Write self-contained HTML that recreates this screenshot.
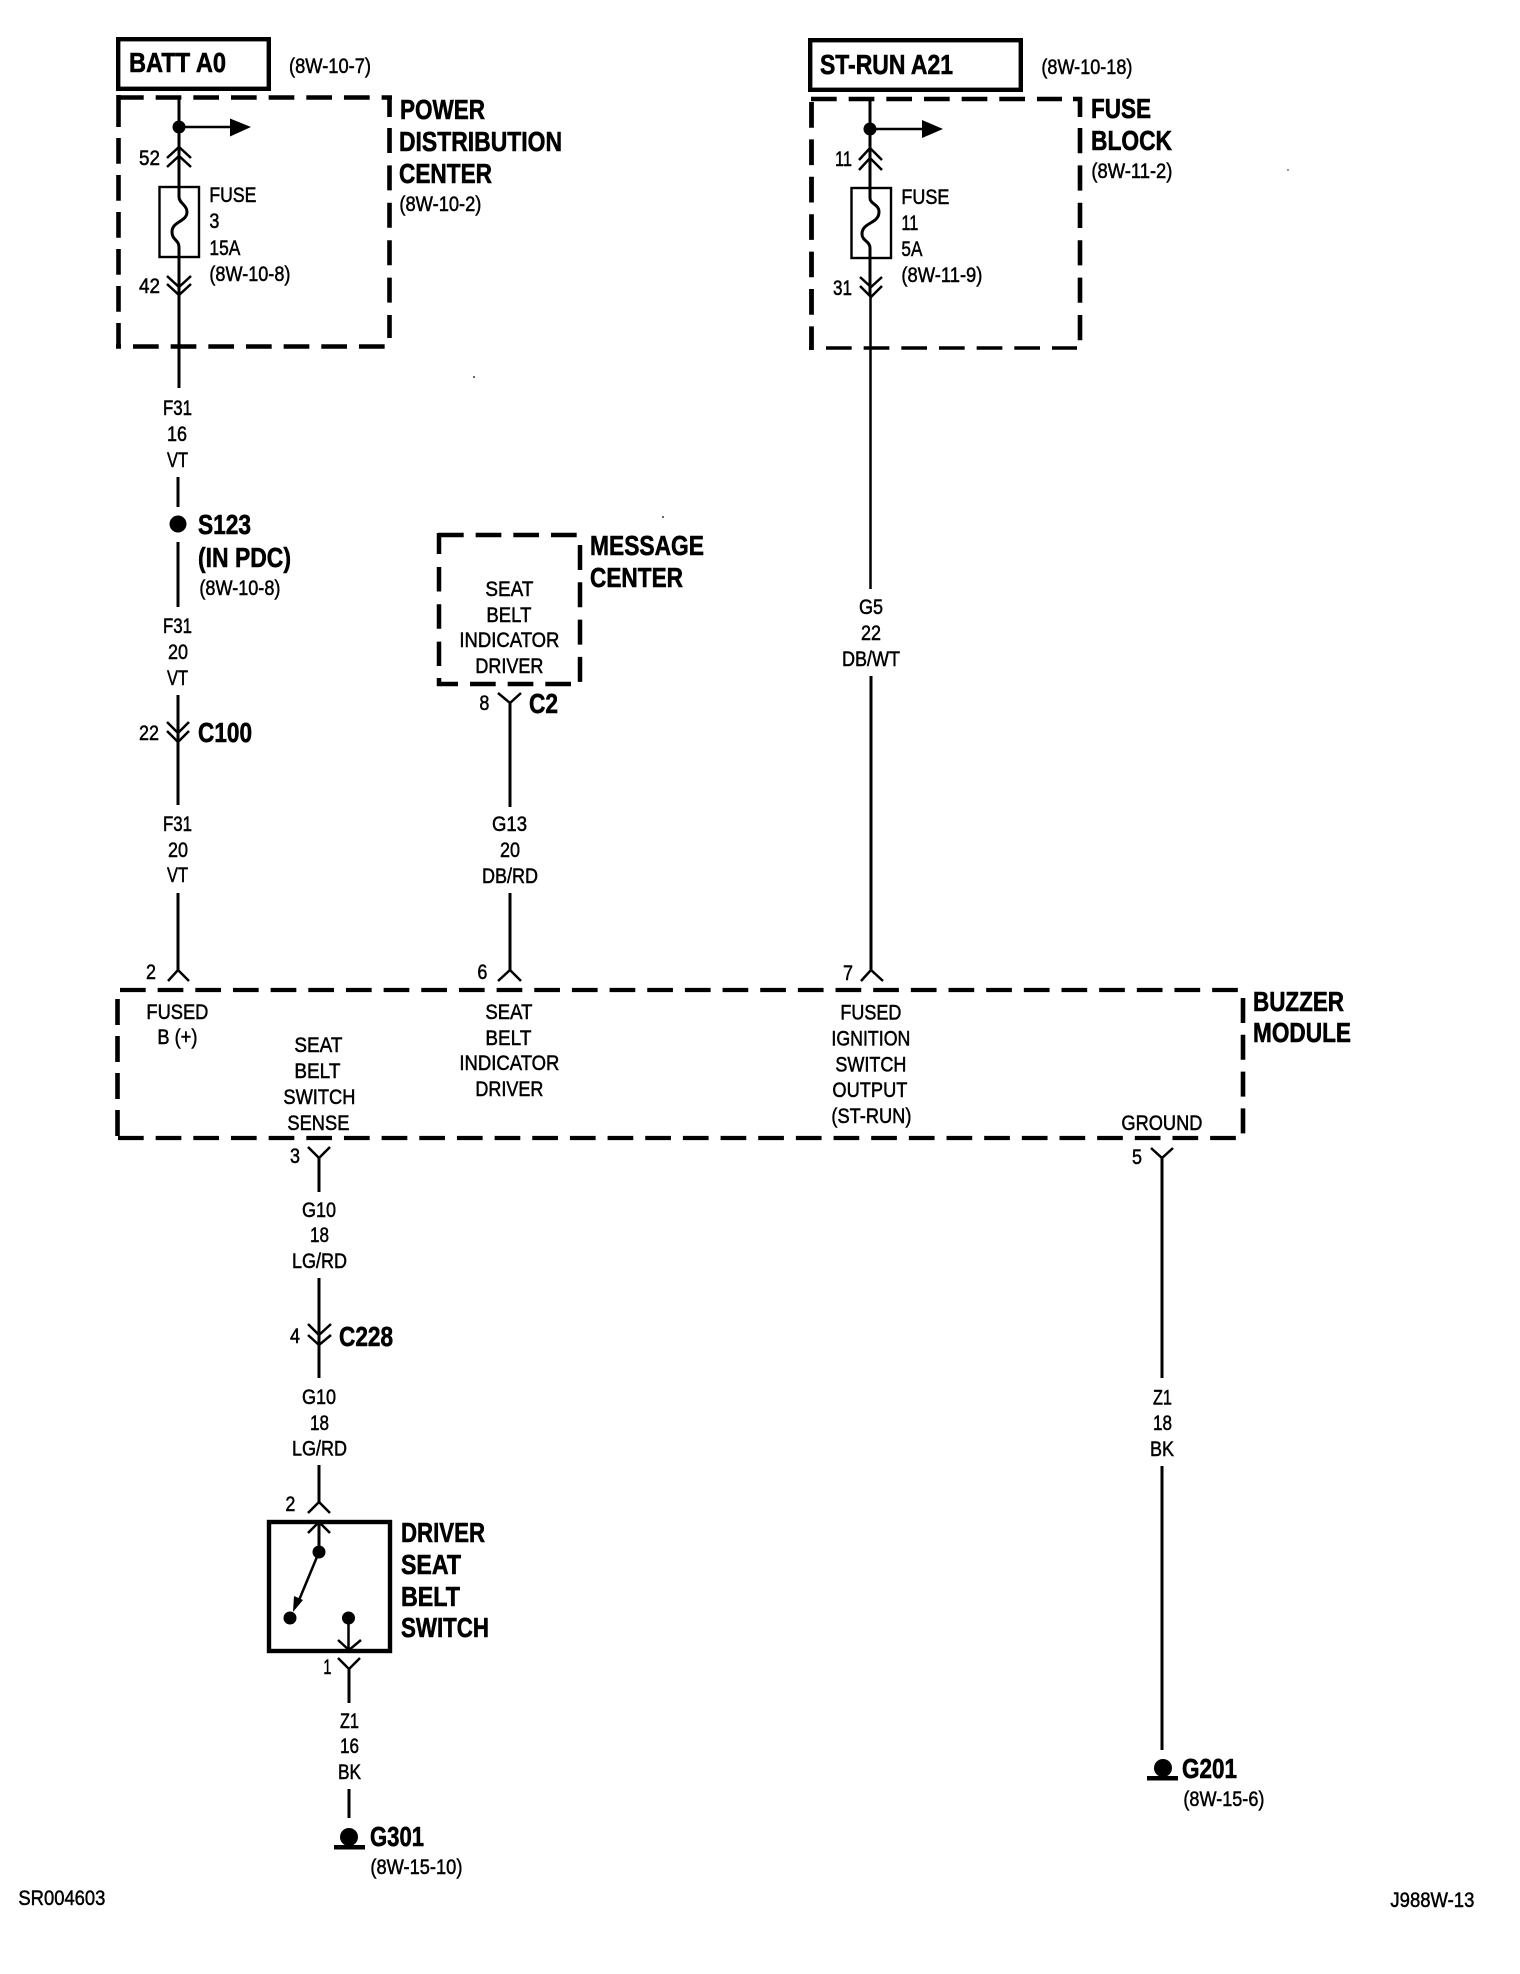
<!DOCTYPE html>
<html lang="en"><head><meta charset="utf-8"><title>Wiring diagram</title>
<style>
html,body{margin:0;padding:0;background:#fff}
svg{display:block}
text{font-family:"Liberation Sans",Arial,sans-serif;fill:#000}
.r{font-size:21px;stroke:#000;stroke-width:.5px;transform:translateX(-.6px)}
.b{font-size:28px;font-weight:bold;stroke:#000;stroke-width:.6px;transform:translateX(-1px)}
.d{fill:none;stroke:#000;stroke-dasharray:25.7 11.96}
.w{fill:none;stroke:#000;stroke-width:3}
.t{fill:none;stroke:#000;stroke-width:2.5}
</style></head><body>
<svg xmlns="http://www.w3.org/2000/svg" width="1520" height="1974" viewBox="0 0 1520 1974">
<rect width="1520" height="1974" fill="#fff"/>

<!-- BATT box -->
<rect x="118.2" y="39.2" width="150.6" height="49.6" fill="none" stroke="#000" stroke-width="4.4"/>
<text class="b" x="130" y="72" textLength="97" lengthAdjust="spacingAndGlyphs">BATT A0</text>
<text class="r" x="289.6" y="73" textLength="82" lengthAdjust="spacingAndGlyphs">(8W-10-7)</text>

<!-- PDC dashed -->
<g stroke-width="4.6">
<line class="d" x1="118" y1="97.5" x2="392" y2="97.5"/>
<path class="w" style="stroke-width:4.6" d="M118.5 95V127M389.5 97V117M116 346.5H121"/>
<line class="d" x1="118.5" y1="138" x2="118.5" y2="348" style="stroke-dasharray:25.7 11.3"/>
<line class="d" x1="389.5" y1="128" x2="389.5" y2="338" style="stroke-dasharray:25 12.4"/>
<line class="d" x1="133" y1="346.5" x2="386" y2="346.5"/>
</g>
<text class="b" x="401" y="119" textLength="85" lengthAdjust="spacingAndGlyphs">POWER</text>
<text class="b" x="400" y="151" textLength="163" lengthAdjust="spacingAndGlyphs">DISTRIBUTION</text>
<text class="b" x="400" y="183" textLength="93" lengthAdjust="spacingAndGlyphs">CENTER</text>
<text class="r" x="400" y="211" textLength="82" lengthAdjust="spacingAndGlyphs">(8W-10-2)</text>

<!-- PDC internals -->
<path class="w" d="M179 98V197C179 203 187 205 187 212C187 222 172 221 172 232C172 240 179 240 179 247V388"/>
<circle cx="179" cy="127" r="6.5"/>
<path class="t" d="M179 127H232"/>
<path d="M230 118.5L251 127L230 136.5Z"/>
<path class="t" d="M167 158L179 147L191 158M167 167L179 156L191 167"/>
<rect x="159.5" y="187" width="39.5" height="70" fill="none" stroke="#000" stroke-width="2.4"/>
<path class="t" d="M167 276L179 287L191 276M167 284L179 295L191 284"/>
<text class="r" x="139.6" y="165" textLength="21" lengthAdjust="spacingAndGlyphs">52</text>
<text class="r" x="139.6" y="293" textLength="21" lengthAdjust="spacingAndGlyphs">42</text>
<text class="r" x="210" y="202" textLength="47" lengthAdjust="spacingAndGlyphs">FUSE</text>
<text class="r" x="210" y="228" textLength="10" lengthAdjust="spacingAndGlyphs">3</text>
<text class="r" x="210" y="255" textLength="31" lengthAdjust="spacingAndGlyphs">15A</text>
<text class="r" x="210" y="281" textLength="81" lengthAdjust="spacingAndGlyphs">(8W-10-8)</text>

<!-- F31 column -->
<text class="r" x="163.6" y="415" textLength="29" lengthAdjust="spacingAndGlyphs">F31</text>
<text class="r" x="167.6" y="441" textLength="20" lengthAdjust="spacingAndGlyphs">16</text>
<text class="r" x="167.6" y="467" textLength="21" lengthAdjust="spacingAndGlyphs">VT</text>
<path class="w" d="M178 477V507M178 542V607M178 695V742M178 742V805M178 893V970"/>
<circle cx="178" cy="524" r="8.5"/>
<text class="b" x="199" y="534" textLength="53" lengthAdjust="spacingAndGlyphs">S123</text>
<text class="b" x="199" y="567" textLength="93" lengthAdjust="spacingAndGlyphs">(IN PDC)</text>
<text class="r" x="200" y="595" textLength="81" lengthAdjust="spacingAndGlyphs">(8W-10-8)</text>
<text class="r" x="163.6" y="633" textLength="29" lengthAdjust="spacingAndGlyphs">F31</text>
<text class="r" x="168.6" y="659" textLength="20" lengthAdjust="spacingAndGlyphs">20</text>
<text class="r" x="167.6" y="685" textLength="21" lengthAdjust="spacingAndGlyphs">VT</text>
<path class="t" d="M167 722L178 733L189 722M167 731L178 742L189 731"/>
<text class="r" x="139.6" y="740" textLength="20" lengthAdjust="spacingAndGlyphs">22</text>
<text class="b" x="199" y="742" textLength="54" lengthAdjust="spacingAndGlyphs">C100</text>
<text class="r" x="163.6" y="831" textLength="29" lengthAdjust="spacingAndGlyphs">F31</text>
<text class="r" x="168.6" y="857" textLength="20" lengthAdjust="spacingAndGlyphs">20</text>
<text class="r" x="167.6" y="882" textLength="21" lengthAdjust="spacingAndGlyphs">VT</text>
<path class="t" d="M168 981L178 970L189 981"/>
<text class="r" x="146.6" y="979" textLength="10" lengthAdjust="spacingAndGlyphs">2</text>

<!-- Message center -->
<line class="d" x1="438" y1="535" x2="578" y2="535" stroke-width="4.5"/>
<path class="w" style="stroke-width:4.5" d="M439 533V554M439 678V686M437 684H458"/>
<line class="d" x1="439" y1="567" x2="439" y2="666" stroke-width="4.5" style="stroke-dasharray:24.5 12.8"/>
<line class="d" x1="580" y1="545" x2="580" y2="682" stroke-width="4.5" style="stroke-dasharray:25 12.3"/>
<line class="d" x1="470" y1="684" x2="571" y2="684" stroke-width="4.5"/>
<text class="b" x="591" y="555" textLength="114" lengthAdjust="spacingAndGlyphs">MESSAGE</text>
<text class="b" x="591" y="587" textLength="93" lengthAdjust="spacingAndGlyphs">CENTER</text>
<text class="r" x="486" y="596" textLength="48" lengthAdjust="spacingAndGlyphs">SEAT</text>
<text class="r" x="487" y="622" textLength="45" lengthAdjust="spacingAndGlyphs">BELT</text>
<text class="r" x="460" y="647" textLength="100" lengthAdjust="spacingAndGlyphs">INDICATOR</text>
<text class="r" x="476" y="673" textLength="68" lengthAdjust="spacingAndGlyphs">DRIVER</text>
<text class="r" x="480" y="710" textLength="10" lengthAdjust="spacingAndGlyphs">8</text>
<text class="b" x="530" y="713" textLength="29" lengthAdjust="spacingAndGlyphs">C2</text>
<path class="t" d="M498 693L510 703L521 693"/>
<path class="w" d="M510 703V807M510 893V970"/>
<text class="r" x="492.6" y="831" textLength="35" lengthAdjust="spacingAndGlyphs">G13</text>
<text class="r" x="500.6" y="857" textLength="20" lengthAdjust="spacingAndGlyphs">20</text>
<text class="r" x="482.6" y="883" textLength="56" lengthAdjust="spacingAndGlyphs">DB/RD</text>
<path class="t" d="M498 981L510 970L521 981"/>
<text class="r" x="478" y="979" textLength="10" lengthAdjust="spacingAndGlyphs">6</text>

<!-- ST-RUN -->
<rect x="810.2" y="40.2" width="210.6" height="49.6" fill="none" stroke="#000" stroke-width="4.4"/>
<text class="b" x="821" y="74" textLength="133" lengthAdjust="spacingAndGlyphs">ST-RUN A21</text>
<text class="r" x="1042" y="74" textLength="91" lengthAdjust="spacingAndGlyphs">(8W-10-18)</text>
<line class="d" x1="811" y1="99" x2="1062" y2="99" stroke-width="4.6"/>
<path class="w" style="stroke-width:4.6" d="M1073 99H1082M1080 97V117"/>
<line class="d" x1="811.5" y1="102" x2="811.5" y2="350" stroke-width="4.8" style="stroke-dasharray:25.7 11.7"/>
<line class="d" x1="1080" y1="128" x2="1080" y2="341" stroke-width="4.6" style="stroke-dasharray:25.2 12.2"/>
<path class="w" style="stroke-width:3.6" d="M809 348H813"/>
<line class="d" x1="826" y1="348" x2="1077" y2="348" stroke-width="3.6"/>
<text class="b" x="1092" y="118" textLength="60" lengthAdjust="spacingAndGlyphs">FUSE</text>
<text class="b" x="1092" y="150" textLength="81" lengthAdjust="spacingAndGlyphs">BLOCK</text>
<text class="r" x="1092" y="178" textLength="81" lengthAdjust="spacingAndGlyphs">(8W-11-2)</text>
<path class="w" d="M870 100V198C870 204 879 204 879 212C879 224 862 222 862 234C862 241 870 241 870 248V296"/>
<path class="t" d="M870.5 296V589"/>
<circle cx="870" cy="129" r="6.5"/>
<path class="t" d="M870 129H924"/>
<path d="M922 120L943 129L922 138Z"/>
<path class="t" d="M859 160L870 148L882 160M859 170L870 158L882 170"/>
<rect x="851.5" y="188" width="39.5" height="70" fill="none" stroke="#000" stroke-width="2.4"/>
<path class="t" d="M860 277L871 287L882 277M860 286L871 297L882 286"/>
<text class="r" x="835.6" y="166" textLength="17" lengthAdjust="spacingAndGlyphs">11</text>
<text class="r" x="833.6" y="295" textLength="19" lengthAdjust="spacingAndGlyphs">31</text>
<text class="r" x="902" y="204" textLength="48" lengthAdjust="spacingAndGlyphs">FUSE</text>
<text class="r" x="902" y="230" textLength="17" lengthAdjust="spacingAndGlyphs">11</text>
<text class="r" x="902" y="256" textLength="21" lengthAdjust="spacingAndGlyphs">5A</text>
<text class="r" x="902" y="282" textLength="81" lengthAdjust="spacingAndGlyphs">(8W-11-9)</text>
<text class="r" x="859.6" y="614" textLength="24" lengthAdjust="spacingAndGlyphs">G5</text>
<text class="r" x="861.6" y="640" textLength="20" lengthAdjust="spacingAndGlyphs">22</text>
<text class="r" x="842.6" y="666" textLength="58" lengthAdjust="spacingAndGlyphs">DB/WT</text>
<path class="w" d="M871 676V970"/>
<path class="t" d="M861 981L871 970L883 981"/>
<text class="r" x="843.6" y="980" textLength="10" lengthAdjust="spacingAndGlyphs">7</text>

<!-- Buzzer module -->
<line class="d" x1="120" y1="990" x2="1238" y2="990" stroke-width="4.2"/>
<line class="d" x1="118" y1="1138" x2="1236" y2="1138" stroke-width="4.2"/>
<line class="d" x1="117.5" y1="999" x2="117.5" y2="1139" stroke-width="4.6" style="stroke-dasharray:26 11"/>
<line class="d" x1="1243" y1="998" x2="1243" y2="1134" stroke-width="4.6" style="stroke-dasharray:25 11.8"/>
<text class="b" x="1254" y="1011" textLength="91" lengthAdjust="spacingAndGlyphs">BUZZER</text>
<text class="b" x="1254" y="1042" textLength="98" lengthAdjust="spacingAndGlyphs">MODULE</text>
<text class="r" x="147" y="1019" textLength="62" lengthAdjust="spacingAndGlyphs">FUSED</text>
<text class="r" x="158" y="1044" textLength="40" lengthAdjust="spacingAndGlyphs">B (+)</text>
<text class="r" x="295" y="1052" textLength="48" lengthAdjust="spacingAndGlyphs">SEAT</text>
<text class="r" x="295" y="1078" textLength="46" lengthAdjust="spacingAndGlyphs">BELT</text>
<text class="r" x="284" y="1104" textLength="72" lengthAdjust="spacingAndGlyphs">SWITCH</text>
<text class="r" x="288" y="1130" textLength="62" lengthAdjust="spacingAndGlyphs">SENSE</text>
<text class="r" x="486" y="1019" textLength="47" lengthAdjust="spacingAndGlyphs">SEAT</text>
<text class="r" x="486" y="1045" textLength="46" lengthAdjust="spacingAndGlyphs">BELT</text>
<text class="r" x="460" y="1070" textLength="100" lengthAdjust="spacingAndGlyphs">INDICATOR</text>
<text class="r" x="476" y="1096" textLength="68" lengthAdjust="spacingAndGlyphs">DRIVER</text>
<text class="r" x="841" y="1019.5" textLength="61" lengthAdjust="spacingAndGlyphs">FUSED</text>
<text class="r" x="832" y="1045.5" textLength="79" lengthAdjust="spacingAndGlyphs">IGNITION</text>
<text class="r" x="836" y="1071.5" textLength="71" lengthAdjust="spacingAndGlyphs">SWITCH</text>
<text class="r" x="833" y="1097" textLength="75" lengthAdjust="spacingAndGlyphs">OUTPUT</text>
<text class="r" x="832" y="1123" textLength="80" lengthAdjust="spacingAndGlyphs">(ST-RUN)</text>
<text class="r" x="1122" y="1130" textLength="81" lengthAdjust="spacingAndGlyphs">GROUND</text>

<!-- G10 column -->
<path class="t" d="M308 1147L319 1158L330 1147"/>
<path class="w" d="M319 1158V1192M319 1278V1345M319 1345V1378M319 1465V1502"/>
<text class="r" x="290.6" y="1163" textLength="10" lengthAdjust="spacingAndGlyphs">3</text>
<text class="r" x="302.6" y="1217" textLength="34" lengthAdjust="spacingAndGlyphs">G10</text>
<text class="r" x="310.6" y="1242" textLength="19" lengthAdjust="spacingAndGlyphs">18</text>
<text class="r" x="292.6" y="1268" textLength="55" lengthAdjust="spacingAndGlyphs">LG/RD</text>
<path class="t" d="M308 1324L319 1335L331 1324M308 1335L319 1345L331 1335"/>
<text class="r" x="290.6" y="1343" textLength="10" lengthAdjust="spacingAndGlyphs">4</text>
<text class="b" x="340" y="1346" textLength="54" lengthAdjust="spacingAndGlyphs">C228</text>
<text class="r" x="302.6" y="1404" textLength="34" lengthAdjust="spacingAndGlyphs">G10</text>
<text class="r" x="310.6" y="1430" textLength="19" lengthAdjust="spacingAndGlyphs">18</text>
<text class="r" x="292.6" y="1455.5" textLength="55" lengthAdjust="spacingAndGlyphs">LG/RD</text>

<!-- Switch -->
<path class="t" d="M308 1513L319 1502L330 1513"/>
<text class="r" x="286" y="1511" textLength="10" lengthAdjust="spacingAndGlyphs">2</text>
<rect x="269" y="1522" width="121" height="129" fill="none" stroke="#000" stroke-width="4.4"/>
<path class="t" d="M308 1533L319 1522L330 1533"/>
<path class="w" d="M319 1522V1552"/>
<circle cx="319" cy="1552" r="6.5"/>
<path class="t" d="M319 1552L297 1605"/>
<path d="M293 1612L294 1596L303 1600Z"/>
<circle cx="290" cy="1618" r="6.5"/>
<circle cx="348.5" cy="1618" r="6.5"/>
<path class="t" d="M348.5 1618V1651M338 1640L349 1650L361 1640"/>
<path class="t" d="M338 1658L349 1669L360 1658"/>
<path class="w" d="M349 1669V1703M349 1789V1818"/>
<text class="r" x="324" y="1674" textLength="8" lengthAdjust="spacingAndGlyphs">1</text>
<text class="b" x="402" y="1542" textLength="84" lengthAdjust="spacingAndGlyphs">DRIVER</text>
<text class="b" x="402" y="1574" textLength="60" lengthAdjust="spacingAndGlyphs">SEAT</text>
<text class="b" x="402" y="1606" textLength="59" lengthAdjust="spacingAndGlyphs">BELT</text>
<text class="b" x="402" y="1637" textLength="88" lengthAdjust="spacingAndGlyphs">SWITCH</text>
<text class="r" x="340.6" y="1728" textLength="19" lengthAdjust="spacingAndGlyphs">Z1</text>
<text class="r" x="340.6" y="1753" textLength="19" lengthAdjust="spacingAndGlyphs">16</text>
<text class="r" x="338.6" y="1779" textLength="23" lengthAdjust="spacingAndGlyphs">BK</text>

<!-- G301 -->
<circle cx="349" cy="1837" r="9"/>
<rect x="334" y="1845" width="31" height="4.5"/>
<text class="b" x="371" y="1846" textLength="54" lengthAdjust="spacingAndGlyphs">G301</text>
<text class="r" x="371" y="1874" textLength="92" lengthAdjust="spacingAndGlyphs">(8W-15-10)</text>

<!-- Ground wire -->
<path class="t" d="M1151 1148L1162 1158L1173 1148"/>
<path class="w" d="M1162 1158V1378M1162 1466V1750"/>
<text class="r" x="1132.6" y="1164" textLength="10" lengthAdjust="spacingAndGlyphs">5</text>
<text class="r" x="1153.6" y="1404.5" textLength="19" lengthAdjust="spacingAndGlyphs">Z1</text>
<text class="r" x="1153.6" y="1430" textLength="19" lengthAdjust="spacingAndGlyphs">18</text>
<text class="r" x="1150.6" y="1456" textLength="24" lengthAdjust="spacingAndGlyphs">BK</text>
<circle cx="1163" cy="1768" r="9"/>
<rect x="1147" y="1776" width="31" height="4.5"/>
<text class="b" x="1183" y="1778" textLength="55" lengthAdjust="spacingAndGlyphs">G201</text>
<text class="r" x="1184" y="1806" textLength="81" lengthAdjust="spacingAndGlyphs">(8W-15-6)</text>

<!-- Footer -->
<text class="r" x="19" y="1905" textLength="87" lengthAdjust="spacingAndGlyphs">SR004603</text>
<text class="r" x="1391" y="1907" textLength="84" lengthAdjust="spacingAndGlyphs">J988W-13</text>

<!-- Scan specks -->
<circle cx="474" cy="377" r=".9"/>
<circle cx="663" cy="517" r=".9"/>
<circle cx="1288" cy="170" r=".7"/>
</svg>
</body></html>
